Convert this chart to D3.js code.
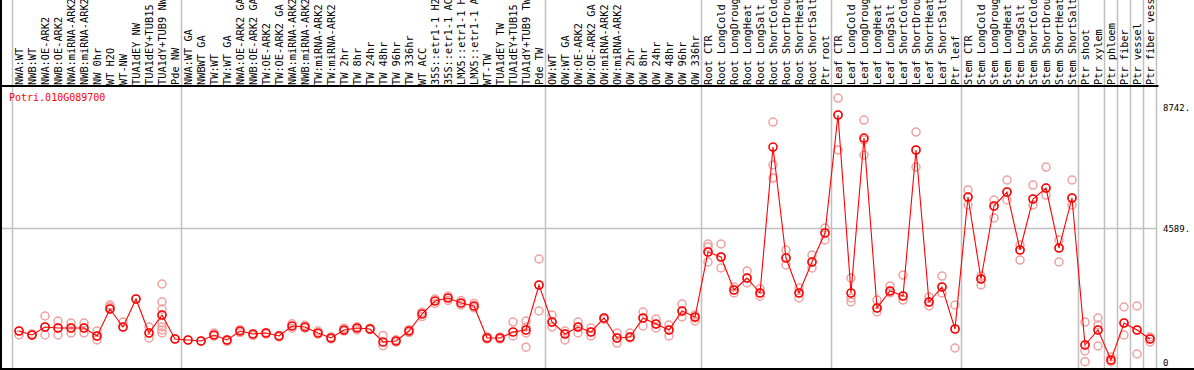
<!DOCTYPE html>
<html><head><meta charset="utf-8">
<script src="https://cdn.jsdelivr.net/npm/d3@7"></script>
<style>body{margin:0;background:#fff}svg{display:block}</style>
</head><body>
<script>
const title = "Potri.010G089700";
const categories = ["NWA:WT","NWB:WT","NWA:OE-ARK2","NWB:OE-ARK2","NWA:miRNA-ARK2","NWB:miRNA-ARK2","NW 0hr","WT H2O","WT-NW","TUA1dEY NW","TUA1dEY+TUB15","TUA1dY+TUB9 NW","Pde NW",
"NWA:WT GA","NWBWT GA","TW:WT","TW:WT GA","NWA:OE-ARK2 GA","NWB:OE-ARK2 GA","TW:OE-ARK2","TW:OE-ARK2 GA","NWA:miRNA-ARK2","NWB:miRNA-ARK2","TW:miRNA-ARK2","TW:miRNA-ARK2","TW 2hr","TW 8hr","TW 24hr","TW 48hr","TW 96hr","TW 336hr","WT ACC","35S::etr1-1 H2O","35S::etr1-1 ACC","LMX5::etr1-1 H2O","LMX5::etr1-1 ACC","WT-TW","TUA1dEY TW","TUA1dEY+TUB15","TUA1dY+TUB9 TW","Pde TW",
"OW:WT","OW:WT GA","OW:OE-ARK2","OW:OE-ARK2 GA","OW:miRNA-ARK2","OW:miRNA-ARK2","OW 2hr","OW 8hr","OW 24hr","OW 48hr","OW 96hr","OW 336hr",
"Root CTR","Root LongCold","Root LongDrought","Root LongHeat","Root LongSalt","Root ShortCold","Root ShortDrought","Root ShortHeat","Root ShortSalt","Ptr root",
"Leaf CTR","Leaf LongCold","Leaf LongDrought","Leaf LongHeat","Leaf LongSalt","Leaf ShortCold","Leaf ShortDrought","Leaf ShortHeat","Leaf ShortSalt","Ptr leaf",
"Stem CTR","Stem LongCold","Stem LongDrought","Stem LongHeat","Stem LongSalt","Stem ShortCold","Stem ShortDrought","Stem ShortHeat","Stem ShortSalt",
"Ptr shoot","Ptr xylem","Ptr phloem","Ptr fiber","Ptr vessel","Ptr fiber vessel"];
const groupStarts = [0,13,41,53,63,73,82,84,85,86,87,88];
const meanValues = [1054,916,1191,1157,1157,1157,882,1809,1191,2152,985,1603,779,
745,710,916,745,1054,951,985,882,1225,1191,985,813,1088,1157,1122,676,710,1054,1637,2083,2186,2015,1912,813,813,1019,1088,2632,
1362,951,1191,1019,1500,813,848,1500,1294,1088,1740,1534,
3765,3593,2461,2873,2358,7368,3559,2358,3422,4417,
8467,2358,7677,1843,2426,2255,7266,2049,2564,1122,
5652,2838,5344,5824,3834,5584,5961,3902,5618,
573,1088,58,1328,1088,779];
const replicateValues = [
[1054,916],[916,950],[1568,1191,916],[1397,1157,916],[1328,1157,985],[1328,1157,985],[1054,882,745],[1946,1809,1877],[1362,1191],[2152],[1191,985,813],[2667,2049,1809,1603,1328,1191,1088,985],[779],
[745],[710],[985,880],[745,700],[1100,1000],[950,900],[1000,950],[900,850],[1300,1150],[1250,1150],[1050,950],[850,780],[1150,1050],[1200,1100],[1150,1100],[900,550],[750,680],[1100,1000],[1700,1550],[2150,2000],[2250,2100],[2100,1950],[2000,1850],[850,780],[850,780],[1362,882],[1397,1191,985,500],[3525,2632,1740],
[1603,1362,1191],[1054,951,745],[1362,1191,985],[1157,1019,882],[1500,1450],[985,813,640],[985,848,813],[1706,1500,1225],[1466,1294,1157],[1260,1088,882],[1980,1740,1534],[1603,1500,1397],
[4040,3937,3765,3422],[4040,3593,3216],[2564,2461,2358],[3113,2873,2701],[2500,2358,2250],[8226,6750,6304],[3833,3559,3319],[2530,2358,2186],[3662,3422,3216],[4589,4417,4177],
[9050,8467,7266],[2873,2186,2049],[8295,7608,7093],[2117,1843,1706],[2600,2426,2358],[2975,2255,2117],[7883,7266,6683],[2220,2049,1912],[2940,2564,2358],[1946,1122,470],
[5893,5652,5378],[2940,2838,2632],[5550,5344,4932],[6236,5824,5550],[4005,3834,3490],[6064,5584,5378],[6682,5961,5721],[4177,3902,3422],[6236,5618,5378],
[1362,573,367,0],[1500,1260,1088,539],[161,58,0],[1877,1328,916],[1912,1088,264],[848,779,676]];
const yTickValues = [0, 4589, 8742];
const yTickLabels = ["0", "4589.", "8742."];

const W = 1194, H = 370;
const svg = d3.select("body").append("svg").attr("width", W).attr("height", H);
const font = "'DejaVu Sans Mono', 'Liberation Mono', monospace";

const x = d3.scaleBand().domain(d3.range(categories.length)).range([12.5, 12.5 + 13*categories.length]).paddingInner(0).paddingOuter(0);
const cx = i => x(i) + x.bandwidth()/2;
const y = d3.scaleLinear().domain([0, 8742]).range([361.7, 107]);
const plotRight = x.range()[1];
const bx = d => (d < categories.length ? x(d) : plotRight);

// horizontal gridline at middle tick
svg.append("g").selectAll("line").data([yTickValues[1]]).join("line")
  .attr("x1", 0).attr("x2", plotRight).attr("y1", d => Math.round(y(d))+0.5).attr("y2", d => Math.round(y(d))+0.5)
  .attr("stroke", "#c0c0c0").attr("stroke-width", 1.5);

// vertical group lines
svg.append("g").selectAll("line").data(groupStarts).join("line")
  .attr("x1", d => Math.round(bx(d)) - 0.5)
  .attr("x2", d => Math.round(bx(d)) - 0.5)
  .attr("y1", 0).attr("y2", H)
  .attr("stroke", "#c0c0c0").attr("stroke-width", 1.5);

// frame
svg.append("line").attr("x1", 1).attr("x2", 1).attr("y1", 0).attr("y2", H).attr("stroke", "#000").attr("stroke-width", 2);
svg.append("line").attr("x1", 0).attr("x2", W).attr("y1", H-1).attr("y2", H-1).attr("stroke", "#000").attr("stroke-width", 2);
svg.append("line").attr("x1", 0).attr("x2", plotRight + 2).attr("y1", 86).attr("y2", 86).attr("stroke", "#000").attr("stroke-width", 2);

// column labels
svg.append("g").selectAll("text").data(categories).join("text")
  .attr("transform", (d,i) => `translate(${cx(i)+3.8},85) rotate(-90)`)
  .attr("font-family", font).attr("font-size", "10.3px").attr("fill", "#000")
  .text(d => d);

// title
svg.append("text").attr("x", 9).attr("y", 101).attr("font-family", font).attr("font-size", "10px")
  .attr("fill", "#ff0000").text(title);

// y labels
svg.append("g").selectAll("text").data(yTickValues).join("text")
  .attr("x", 1163).attr("y", d => y(d) + 4)
  .attr("font-family", font).attr("font-size", "9px").attr("fill", "#000")
  .text((d,i) => yTickLabels[i]);

// replicates
const reps = [];
replicateValues.forEach((arr,i) => arr.forEach(v => reps.push({i, v})));
svg.append("g").selectAll("circle").data(reps).join("circle")
  .attr("cx", d => cx(d.i)).attr("cy", d => y(d.v)).attr("r", 4)
  .attr("fill", "none").attr("stroke", "#f0a0a0").attr("stroke-width", 1.5);

// mean line
svg.append("path").datum(meanValues)
  .attr("d", d3.line().x((d,i) => cx(i)).y(d => y(d)))
  .attr("fill", "none").attr("stroke", "#ff0000").attr("stroke-width", 1.1);

// mean markers
svg.append("g").selectAll("circle").data(meanValues).join("circle")
  .attr("cx", (d,i) => cx(i)).attr("cy", d => y(d)).attr("r", 4)
  .attr("fill", "none").attr("stroke", "#ff0000").attr("stroke-width", 1.6);
</script>
</body></html>
